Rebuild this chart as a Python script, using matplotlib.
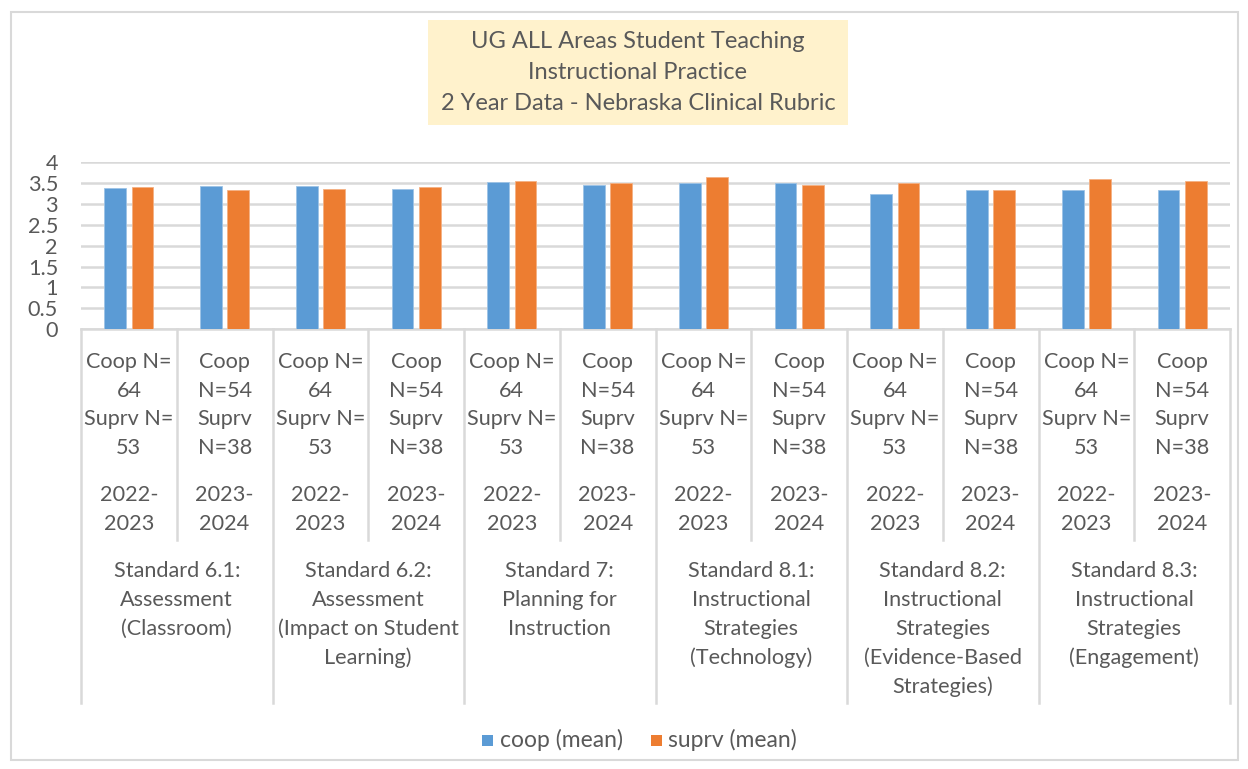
import matplotlib.pyplot as plt
import matplotlib.transforms as mtransforms
from matplotlib.patches import Rectangle
import numpy as np

plt.rcParams['font.family'] = ['Lato', 'DejaVu Sans']

# data
coop_mean = [3.38, 3.43, 3.44, 3.37, 3.54, 3.46, 3.50, 3.51, 3.25, 3.33, 3.33, 3.33]
suprv_mean = [3.40, 3.34, 3.37, 3.40, 3.56, 3.50, 3.64, 3.46, 3.50, 3.33, 3.60, 3.55]
n_labels = [["Coop N=", "64", "Suprv N=", "53"],
            ["Coop", "N=54", "Suprv", "N=38"]]
year_labels = [["2022-", "2023"], ["2023-", "2024"]]
standards = [
    ["Standard 6.1:", "Assessment", "(Classroom)"],
    ["Standard 6.2:", "Assessment", "(Impact on Student", "Learning)"],
    ["Standard 7:", "Planning for", "Instruction"],
    ["Standard 8.1:", "Instructional", "Strategies", "(Technology)"],
    ["Standard 8.2:", "Instructional", "Strategies", "(Evidence-Based", "Strategies)"],
    ["Standard 8.3:", "Instructional", "Strategies", "(Engagement)"],
]
title_lines = ["UG ALL Areas Student Teaching", "Instructional Practice",
               "2 Year Data - Nebraska Clinical Rubric"]

W, H = 1248, 769
BLUE = "#5B9BD5"
ORANGE = "#ED7D31"
GRID = "#D9D9D9"
TXT = "#595959"
FS = 15.6

fig = plt.figure(figsize=(W / 100, H / 100), dpi=100)

def fy(py):
    return 1 - py / H

# outer chart frame
fig.patches.append(Rectangle((11 / W, fy(760)), (1238 - 11) / W, (760 - 12) / H,
                             transform=fig.transFigure, fill=False,
                             edgecolor=GRID, linewidth=1.5))

x0, x1, y0, y4 = 81, 1230, 329, 162.5
ax = fig.add_axes([x0 / W, fy(y0), (x1 - x0) / W, (y0 - y4) / H])

x = np.arange(len(coop_mean))
bw = 0.227
off = 0.143
ax.bar(x - off, coop_mean, bw, color=BLUE, edgecolor="#9DC3E6", linewidth=0.6, zorder=3)
ax.bar(x + off, suprv_mean, bw, color=ORANGE, edgecolor="#F4B183", linewidth=0.6, zorder=3)

ax.set_xlim(-0.5, len(x) - 0.5)
ax.set_ylim(0, 4)
ax.set_yticks(np.arange(0, 4.01, 0.5))
ax.set_yticklabels(["0", "0.5", "1", "1.5", "2", "2.5", "3", "3.5", "4"])
ax.tick_params(axis="y", length=0, labelsize=FS, labelcolor=TXT, pad=16.5)
ax.set_xticks([])
ax.grid(axis="y", color=GRID, linewidth=1.8, zorder=0)
for s in ["top", "right", "left"]:
    ax.spines[s].set_visible(False)
ax.spines["bottom"].set_color(GRID)
ax.spines["bottom"].set_linewidth(1.8)

# multi-level category axis
tr = mtransforms.blended_transform_factory(ax.transData, fig.transFigure)
for i in range(len(x) + 1):
    bottom = 703 if i % 2 == 0 else 540
    ax.plot([i - 0.5, i - 0.5], [fy(y0), fy(bottom)], transform=tr,
            color=GRID, linewidth=1.8, clip_on=False)

step = 28.7
for i in x:
    for j, line in enumerate(n_labels[i % 2]):
        fig.text(i, fy(362 + j * step), line, transform=tr, ha="center",
                 va="center", fontsize=FS, color=TXT)
    for j, line in enumerate(year_labels[i % 2]):
        fig.text(i, fy(495 + j * step), line, transform=tr, ha="center",
                 va="center", fontsize=FS, color=TXT)

for g, lines in enumerate(standards):
    for j, line in enumerate(lines):
        fig.text(2 * g + 0.5, fy(571 + j * 29), line, transform=tr, ha="center",
                 va="center", fontsize=FS, color=TXT)

# title box
fig.patches.append(Rectangle((428 / W, fy(125)), (848 - 428) / W, (125 - 20) / H,
                             transform=fig.transFigure, facecolor="#FFF2CC",
                             edgecolor="none"))
for j, line in enumerate(title_lines):
    fig.text(638 / W, fy(41 + j * 31.5), line, ha="center", va="center",
             fontsize=17, color=TXT)

# legend
fig.patches.append(Rectangle((482 / W, fy(746)), 11 / W, 11 / H,
                             transform=fig.transFigure, facecolor=BLUE, edgecolor="none"))
fig.text(500 / W, fy(740), "coop (mean)", ha="left", va="center", fontsize=16.5, color=TXT)
fig.patches.append(Rectangle((651 / W, fy(746)), 11 / W, 11 / H,
                             transform=fig.transFigure, facecolor=ORANGE, edgecolor="none"))
fig.text(668 / W, fy(740), "suprv (mean)", ha="left", va="center", fontsize=16.5, color=TXT)

fig.savefig("out.png", dpi=100)
